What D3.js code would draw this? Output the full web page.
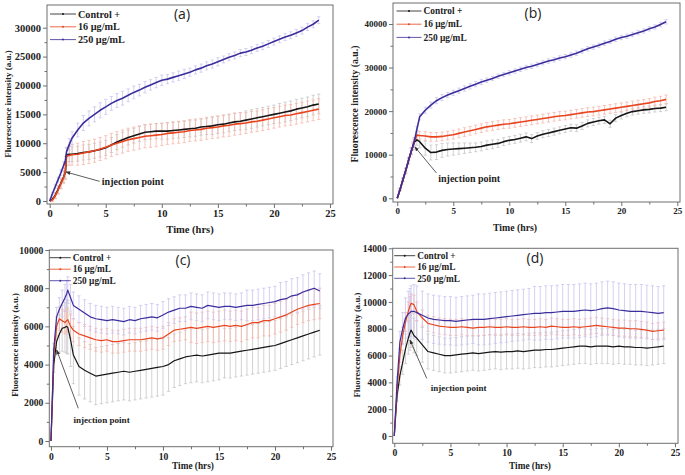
<!DOCTYPE html>
<html>
<head>
<meta charset="utf-8">
<title>Fluorescence kinetics</title>
<style>
  body { margin: 0; background: #fff; }
  svg text { font-family: "Liberation Serif", "Times New Roman", serif; font-weight: bold; fill: #222; }
  .frame { fill: none; stroke: #6f6f6f; stroke-width: 1; }
  .axis path { display: none; }
  .axis line { stroke: #6f6f6f; }
  .tag { font-family: "Open Sans", sans-serif; font-weight: normal !important; }
</style>
</head>
<body>
<svg id="fig" width="685" height="475"></svg>
<script src="https://cdn.jsdelivr.net/npm/d3@7/dist/d3.min.js"></script>
<script>
// sampling times (hrs), shared by all panels
var hours = [0,0.25,0.5,0.75,1,1.25,1.4,1.5,1.75,2,2.5,3,3.5,4,4.5,5,5.5,6,6.5,7,7.5,8,8.5,9,9.5,10,10.5,11,11.5,12,12.5,13,13.5,14,14.5,15,15.5,16,16.5,17,17.5,18,18.5,19,19.5,20,20.5,21,21.5,22,22.5,23,23.5,24];

var seriesNames = ['Control +', '16 \u00b5g/mL', '250 \u00b5g/mL'];

// panel (a)
var aCtrl = [0,300,1000,2000,3100,4200,5000,8000,8100,8100,8200,8400,8500,8700,8900,9200,9700,10200,10600,11000,11300,11600,11900,12000,12100,12100,12100,12200,12300,12400,12500,12600,12800,12900,13000,13200,13300,13500,13700,13800,14000,14200,14400,14600,14800,15000,15200,15400,15600,15900,16100,16300,16600,16800];
var a16 = [0,200,900,1900,3000,4100,5000,7700,7900,8000,8100,8300,8500,8700,9000,9300,9700,10000,10300,10600,10800,11000,11200,11300,11400,11500,11700,11800,11900,12000,12200,12300,12400,12600,12700,12800,13000,13100,13300,13400,13500,13700,13800,14000,14200,14400,14600,14800,14900,15100,15300,15500,15700,15900];
var a250 = [0,1300,2500,3700,4900,6200,7000,8500,9800,10900,12300,13500,14300,15000,15700,16300,16900,17400,17800,18300,18800,19200,19700,20100,20500,20900,21100,21400,21700,22000,22300,22700,23000,23400,23700,24100,24500,24900,25200,25600,25800,26100,26500,26800,27200,27600,28000,28400,28700,29100,29500,30100,30600,31300];
var aCtrlErr = [0,300,500,700,900,1000,1100,1200,1300,1300,1300,1300,1300,1300,1300,1300,1300,1300,1300,1300,1300,1300,1300,1300,1300,1400,1400,1400,1400,1400,1400,1400,1400,1400,1500,1500,1500,1500,1500,1500,1600,1600,1600,1600,1600,1600,1700,1700,1700,1700,1700,1700,1700,1700];
var a16Err = [0,300,500,700,900,1100,1300,1500,1700,1800,1900,2000,2000,2000,2000,2000,2000,2000,2000,2000,2000,2000,2000,2000,2000,1900,1900,1900,1900,1900,1900,1900,1900,1900,1900,1900,1900,1900,1900,1900,1800,1800,1800,1800,1800,1800,1800,1800,1800,1800,1800,1800,1800,1800];
var a250Err = [0,200,300,400,500,600,700,800,1000,1100,1200,1300,1300,1300,1300,1300,1200,1200,1200,1100,1100,1000,1000,900,900,900,800,800,800,800,700,700,700,700,700,700,600,600,600,600,600,600,600,600,600,600,600,600,600,600,600,600,600,600];

// panel (b)
var bCtrl = [0,2000,4200,6300,8600,10800,12000,12800,13400,13000,11500,10500,10600,11000,11200,11300,11400,11500,11600,11700,11900,12200,12400,12600,13000,13300,13500,13800,14100,13700,14300,14700,15000,15300,15600,15900,16200,16100,16600,17200,17500,17800,18000,17100,18400,19000,19500,19900,20100,20300,20400,20600,20700,20900];
var b16 = [0,2000,4200,6300,8600,10800,12000,13000,14500,14400,14300,14100,14100,14200,14400,14600,14900,15200,15500,15800,16100,16400,16600,16800,17000,17100,17300,17500,17700,17900,18100,18300,18500,18700,18900,19000,19200,19400,19600,19800,19900,20100,20300,20500,20700,20900,21100,21300,21500,21700,21900,22200,22400,22700];
var b250 = [0,2000,4200,6300,8600,10800,12000,12800,15800,18700,20200,21400,22400,23100,23700,24200,24700,25200,25700,26200,26700,27100,27500,28000,28400,28800,29200,29600,30000,30300,30700,31100,31500,31800,32200,32500,32900,33300,33800,34300,34700,35100,35600,36000,36500,36900,37200,37600,38000,38400,38900,39300,39900,40500];
var bCtrlErr = [0,200,400,600,700,800,900,1000,1200,1400,1600,1700,1700,1600,1500,1400,1300,1200,1100,1000,1000,1000,1000,900,900,900,900,900,900,900,800,800,800,800,800,800,800,800,800,800,800,800,800,800,800,800,800,800,800,800,800,800,800,800];
var b16Err = [0,200,400,600,700,800,900,900,1000,1000,1000,1000,1000,1000,1000,1000,1000,1000,1000,1000,1000,1000,1000,1000,1000,1000,1000,1000,1000,1000,1000,1000,1000,1000,1000,1000,1000,1000,1000,1000,1000,1000,1000,1000,1000,1000,1000,1000,1000,1000,1000,1000,1000,1000];
var b250Err = [0,200,300,400,500,600,600,700,700,700,700,700,700,700,600,600,600,600,600,600,600,500,500,500,500,500,500,500,500,500,500,500,500,500,500,500,500,500,500,500,500,500,500,500,500,500,500,500,500,500,500,500,500,500];

// panel (c)
var cCtrl = [0,4000,5200,5600,5900,5950,6000,5950,5300,4500,3900,3700,3550,3400,3450,3500,3550,3600,3650,3600,3650,3700,3750,3800,3850,3900,4000,4200,4300,4400,4450,4500,4450,4500,4550,4600,4600,4600,4650,4700,4750,4800,4850,4900,4950,5000,5100,5200,5300,5400,5500,5600,5700,5800];
var c16 = [0,4500,6000,6400,6300,6200,6300,6350,6000,5800,5600,5500,5400,5300,5250,5300,5200,5200,5250,5300,5300,5300,5350,5400,5350,5400,5600,5800,5850,5900,5950,5900,5950,6000,5950,6000,6050,6000,6050,6000,6100,6200,6200,6300,6300,6400,6500,6600,6750,6900,7000,7100,7150,7200];
var c250 = [0,4800,6500,6900,7200,7500,7700,7900,7500,7100,6900,6700,6500,6400,6350,6300,6350,6300,6250,6350,6300,6400,6450,6500,6450,6600,6750,6850,6950,6950,7050,7000,6950,7100,7050,7000,7050,7050,7000,7050,7100,7100,7150,7200,7250,7300,7400,7450,7600,7650,7800,7900,8000,7850];
var cCtrlErr = [0,400,700,1000,1200,1300,1400,1400,1400,1500,1500,1500,1500,1500,1500,1500,1500,1500,1500,1500,1500,1500,1500,1500,1500,1500,1400,1400,1400,1400,1400,1400,1400,1400,1400,1400,1300,1300,1300,1300,1300,1300,1300,1300,1300,1300,1300,1300,1300,1300,1300,1300,1300,1300];
var c16Err = [0,300,500,600,600,600,600,600,600,600,600,600,600,600,600,600,600,600,600,600,600,600,600,600,600,600,600,600,600,600,800,800,800,800,800,800,800,800,800,800,800,800,800,800,800,800,800,800,800,800,800,800,800,800];
var c250Err = [0,300,500,600,700,700,700,700,700,700,700,700,700,700,700,700,700,700,700,700,700,700,700,700,700,700,700,700,700,700,700,700,700,700,700,700,700,700,700,700,800,800,800,800,800,800,900,900,900,900,900,900,900,900];

// panel (d)
var dCtrl = [0,3000,4500,5500,6500,7300,7700,7900,7500,7300,6800,6300,6200,6100,6000,6000,6050,6100,6150,6200,6150,6200,6250,6300,6250,6300,6300,6350,6300,6350,6400,6400,6450,6450,6500,6550,6600,6650,6700,6700,6650,6700,6700,6700,6650,6700,6650,6650,6600,6600,6550,6600,6650,6700];
var d16 = [0,3500,6000,7500,8500,9300,9700,9900,9800,9300,8800,8400,8300,8200,8150,8100,8100,8150,8100,8050,8100,8100,8150,8100,8100,8150,8100,8100,8150,8100,8100,8150,8100,8200,8150,8100,8100,8150,8100,8150,8200,8250,8200,8150,8100,8050,8050,8000,8000,7950,7900,7800,7850,7900];
var d250 = [0,4000,7000,8000,8800,9100,9200,9300,9300,9200,9000,8800,8700,8650,8600,8600,8550,8600,8650,8700,8700,8700,8750,8800,8850,8900,8950,9000,9050,9100,9150,9150,9200,9200,9250,9300,9300,9300,9350,9400,9350,9400,9500,9550,9500,9400,9350,9300,9300,9300,9250,9200,9150,9200];
var dCtrlErr = [0,400,700,900,1100,1200,1300,1300,1300,1300,1300,1300,1300,1300,1300,1300,1300,1300,1300,1300,1300,1300,1300,1300,1300,1300,1300,1300,1300,1300,1300,1300,1300,1300,1300,1300,1300,1300,1300,1300,1300,1300,1300,1300,1300,1300,1300,1300,1300,1300,1300,1300,1300,1300];
var d16Err = [0,300,500,600,700,700,700,700,700,700,600,600,600,600,600,600,600,600,600,600,600,600,600,600,600,600,600,600,600,600,600,600,600,600,600,600,600,600,600,600,600,600,600,600,600,600,600,600,600,600,600,600,600,600];
var d250Err = [0,400,800,1200,1500,1700,1800,1900,2000,2000,1800,1800,1800,1800,1800,1800,1800,1800,1800,1800,1900,1900,1900,1900,1900,1900,1900,1900,1900,1900,2000,2000,2000,2000,2000,2000,2000,2000,2000,2000,2000,2000,2000,2000,2000,2000,2000,2000,2000,2000,2000,2000,2000,2000];

var lineColors = ['#161616', '#e8451f', '#3a2e9c'];
var errColors = ['#c6c6c6', '#f5b9ad', '#cbc4ef'];

var svg = d3.select('#fig');

var panels = [
  { tag: '(a)', box: [47, 5, 333, 204], xDom: [-0.24, 25.27], yDom: [-520, 33930],
    yMax: 30000, yStep: 5000, font: 10.5, xTitleSize: 10.5, yTitleSize: 9, legSize: 10.2,
    data: [aCtrl, a16, a250], err: [aCtrlErr, a16Err, a250Err], lw: 1.6,
    leg: [3, 9, 12.8, 26], tagPos: [182, 19], xTitle: [190, 233], yTitle: [8, 104],
    note: { head: [1.45, 5020], tail: [4.45, 3400], text: [4.65, 2750], size: 10 } },
  { tag: '(b)', box: [393, 3, 680, 202], xDom: [-0.38, 25.24], yDom: [-850, 44820],
    yMax: 40000, yStep: 10000, font: 9, xTitleSize: 9.8, yTitleSize: 9.8, legSize: 9.4,
    data: [bCtrl, b16, b250], err: [bCtrlErr, b16Err, b250Err], lw: 1.6,
    leg: [3.5, 8, 13.2, 25], tagPos: [533, 18], xTitle: [515, 231], yTitle: [355, 104],
    note: { head: [1.57, 11800], tail: [3.5, 5800], text: [3.66, 3800], size: 10 } },
  { tag: '(c)', box: [49.3, 250, 333, 446.7], xDom: [-0.15, 25.18], yDom: [-300, 10000],
    yMax: 10000, yStep: 2000, font: 9.6, xTitleSize: 9.3, yTitleSize: 8.7, legSize: 9.3,
    data: [cCtrl, c16, c250], err: [cCtrlErr, c16Err, c250Err], lw: 1.2,
    leg: [0.5, 7.7, 11.5, 21], tagPos: [183, 265], xTitle: [193, 469], yTitle: [15, 345],
    note: { head: [0.51, 4760], tail: [2.44, 1710], text: [2.0, 960], size: 9.1 } },
  { tag: '(d)', box: [392.7, 248.3, 678, 443.3], xDom: [-0.14, 25.27], yDom: [-545, 14000],
    yMax: 14000, yStep: 2000, font: 9.6, xTitleSize: 9.3, yTitleSize: 8.8, legSize: 9.3,
    data: [dCtrl, d16, d250], err: [dCtrlErr, d16Err, d250Err], lw: 1.2,
    leg: [1.5, 7.4, 11.3, 21], tagPos: [535, 263], xTitle: [530, 469], yTitle: [357, 345],
    note: { head: [1.4, 7160], tail: [2.89, 4300], text: [3.24, 3360], size: 9 } }
];

svg.append('defs').append('marker')
  .attr('id', 'arrow')
  .attr('viewBox', '0 0 10 10')
  .attr('refX', 9).attr('refY', 5)
  .attr('markerWidth', 6).attr('markerHeight', 6)
  .attr('orient', 'auto-start-reverse')
  .append('path').attr('d', 'M0,1 L10,5 L0,9 z').attr('fill', '#333');

panels.forEach(drawPanel);

function drawPanel(p) {
  var g = svg.append('g');
  var left = p.box[0], top = p.box[1], right = p.box[2], bottom = p.box[3];
  var x = d3.scaleLinear().domain(p.xDom).range([left, right]);
  var y = d3.scaleLinear().domain(p.yDom).range([bottom, top]);

  var xMajor = d3.range(0, 25.01, 5), xMinor = d3.range(2.5, 25, 5);
  var yMajor = d3.range(0, p.yMax + 1, p.yStep);
  var yMinor = d3.range(p.yStep / 2, p.yMax, p.yStep);

  // minor ticks
  g.append('g').attr('class', 'axis').attr('transform', 'translate(0,' + bottom + ')')
    .call(d3.axisBottom(x).tickValues(xMinor).tickSize(2.5).tickFormat(''));
  g.append('g').attr('class', 'axis').attr('transform', 'translate(' + left + ',0)')
    .call(d3.axisLeft(y).tickValues(yMinor).tickSize(2.5).tickFormat(''));

  // major ticks + labels
  g.append('g').attr('class', 'axis').attr('transform', 'translate(0,' + bottom + ')')
    .call(d3.axisBottom(x).tickValues(xMajor).tickSize(4).tickPadding(2).tickFormat(d3.format('d')))
    .selectAll('text').attr('font-size', p.font).attr('fill', '#222');
  g.append('g').attr('class', 'axis').attr('transform', 'translate(' + left + ',0)')
    .call(d3.axisLeft(y).tickValues(yMajor).tickSize(4).tickPadding(2).tickFormat(d3.format('d')))
    .selectAll('text').attr('font-size', p.font).attr('fill', '#222');

  // error bars
  p.err.forEach(function(errs, k) {
    var vals = p.data[k];
    var eg = g.append('g').attr('stroke', errColors[k]).attr('stroke-width', 0.8);
    hours.forEach(function(t, i) {
      if (!errs[i]) return;
      var px = x(t), y0 = y(vals[i] - errs[i]), y1 = y(vals[i] + errs[i]);
      eg.append('line').attr('x1', px).attr('x2', px).attr('y1', y0).attr('y2', y1);
      eg.append('line').attr('x1', px - 1.6).attr('x2', px + 1.6).attr('y1', y0).attr('y2', y0);
      eg.append('line').attr('x1', px - 1.6).attr('x2', px + 1.6).attr('y1', y1).attr('y2', y1);
    });
  });

  // lines
  var line = d3.line().x(function(d, i) { return x(hours[i]); }).y(function(d) { return y(d); });
  p.data.forEach(function(vals, k) {
    g.append('path').attr('d', line(vals))
      .attr('fill', 'none').attr('stroke', lineColors[k])
      .attr('stroke-width', p.lw).attr('stroke-linejoin', 'round');
  });

  // frame
  g.append('rect').attr('class', 'frame')
    .attr('x', left).attr('y', top).attr('width', right - left).attr('height', bottom - top);

  // legend
  var lg = g.append('g');
  seriesNames.forEach(function(name, k) {
    var cy = top + p.leg[1] + k * p.leg[2];
    var x0 = left + p.leg[0], x1 = x0 + p.leg[3];
    lg.append('line').attr('x1', x0).attr('x2', x1).attr('y1', cy).attr('y2', cy)
      .attr('stroke', lineColors[k]).attr('stroke-width', 1).attr('opacity', 0.8);
    lg.append('circle').attr('cx', (x0 + x1) / 2).attr('cy', cy).attr('r', 1).attr('fill', lineColors[k]);
    lg.append('text').attr('x', x1 + 2).attr('y', cy).attr('dy', '0.35em')
      .attr('font-size', p.legSize).text(name);
  });

  // panel tag
  g.append('text').attr('class', 'tag').attr('x', p.tagPos[0]).attr('y', p.tagPos[1])
    .attr('text-anchor', 'middle').attr('font-size', 14).text(p.tag);

  // axis titles
  g.append('text').attr('x', p.xTitle[0]).attr('y', p.xTitle[1])
    .attr('text-anchor', 'middle').attr('font-size', p.xTitleSize).text('Time (hrs)');
  g.append('text').attr('transform', 'translate(' + p.yTitle[0] + ',' + p.yTitle[1] + ') rotate(-90)')
    .attr('text-anchor', 'middle').attr('dy', '0.35em')
    .attr('font-size', p.yTitleSize).text('Fluorescence intensity (a.u.)');

  // injection point annotation
  var n = p.note;
  g.append('line')
    .attr('x1', x(n.tail[0])).attr('y1', y(n.tail[1]))
    .attr('x2', x(n.head[0])).attr('y2', y(n.head[1]))
    .attr('stroke', '#333').attr('stroke-width', 0.8).attr('marker-end', 'url(#arrow)');
  g.append('text').attr('x', x(n.text[0])).attr('y', y(n.text[1]))
    .attr('font-size', n.size).text('injection point');
}
</script>
</body>
</html>
